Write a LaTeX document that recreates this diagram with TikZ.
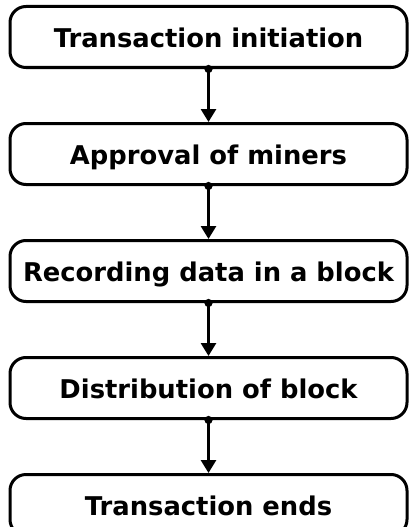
\documentclass[tikz,border=0pt]{standalone}
\usepackage{fontspec}
\setmainfont{DejaVu Sans}
\usepackage{tikz}
\usetikzlibrary{arrows.meta, positioning}

\begin{document}
\begin{tikzpicture}[
    node distance=53pt,
    stage/.style={rectangle, rounded corners=16pt, draw, line width=3pt, minimum width=397pt, minimum height=61pt, align=center, font=\fontsize{25.8}{30}\selectfont\bfseries, inner sep=2pt, text height=21pt, text depth=0pt},
    arr/.style={{Circle[length=8pt]}-{Triangle[length=13pt, width=15pt]}, line width=2.8pt, shorten <=-4pt},
  ]
    \useasboundingbox (0,0) rectangle (409pt,-527pt);
    \node[stage] (init) at (208.5pt,-37pt) {Transaction initiation};
    \node[stage, below=of init] (approve) {Approval of miners};
    \node[stage, below=of approve] (record) {Recording data in a block};
    \node[stage, below=of record] (distrib) {Distribution of block};
    \node[stage, below=of distrib] (ends) {Transaction ends};
    \draw[arr] (init) -- (approve);
    \draw[arr] (approve) -- (record);
    \draw[arr] (record) -- (distrib);
    \draw[arr] (distrib) -- (ends);
  \end{tikzpicture}
\end{document}
